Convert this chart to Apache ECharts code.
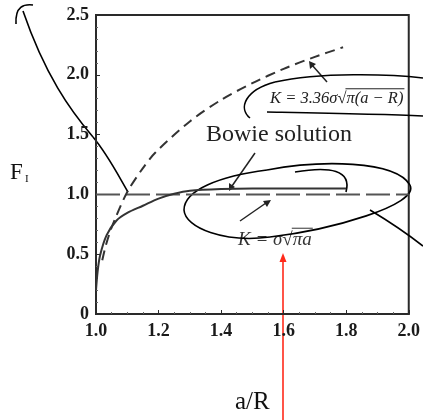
<!DOCTYPE html>
<html><head><meta charset="utf-8">
<script src="https://cdn.jsdelivr.net/npm/echarts@6/dist/echarts.min.js"></script>
<style>html,body{margin:0;padding:0;background:#fff}#c{width:423px;height:420px}</style>
</head><body><div id="c"></div>
<script>
// Data
const xTicks = [1.0, 1.2, 1.4, 1.6, 1.8, 2.0];
const yTicks = [0, 0.5, 1.0, 1.5, 2.0, 2.5];
const bowieX = [1.0, 1.005, 1.013, 1.034, 1.065, 1.1, 1.15, 1.2, 1.25, 1.3, 1.4, 1.5, 1.6, 1.8];
const bowieF = [0.2, 0.35, 0.49, 0.66, 0.78, 0.845, 0.905, 0.965, 1.005, 1.03, 1.045, 1.05, 1.05, 1.05];
const shortX = [1.02, 1.03, 1.044, 1.06, 1.1, 1.15, 1.19, 1.3, 1.4, 1.5, 1.6, 1.7, 1.79];
const shortF = [0.45, 0.56, 0.68, 0.79, 1.02, 1.22, 1.35, 1.61, 1.79, 1.93, 2.05, 2.15, 2.23];
const longX = [1.0, 2.0];
const longF = [1.0, 1.0];
const eq1 = ['K = 3.36σ√', 'π(a − R)'];
const eq2 = ['K = σ√', 'πa'];

const serif = '"Liberation Serif", "DejaVu Serif", serif';
const chart = echarts.init(document.getElementById('c'), null, {renderer: 'canvas'});
const zip = (a, b) => a.map((v, i) => [v, b[i]]);
const ink = '#2a2a2a';
const hand = () => ({stroke: '#000', lineWidth: 1.6, fill: null});
const bz = (x1, y1, c1x, c1y, c2x, c2y, x2, y2) => ({type: 'bezierCurve',
  shape: {x1, y1, cpx1: c1x, cpy1: c1y, cpx2: c2x, cpy2: c2y, x2, y2}, style: hand()});
const ctx = document.createElement('canvas').getContext('2d');
const tw = (t, size) => { ctx.font = 'italic ' + size + 'px ' + serif; return ctx.measureText(t).width; };
function eq(parts, x, y, size, color) {
  const w1 = tw(parts[0], size), w2 = tw(parts[0] + parts[1], size);
  return [
    {type: 'text', x: x, y: y, style: {text: parts[0] + parts[1], fontFamily: serif, fontStyle: 'italic', fontSize: size, fill: color, align: 'left', verticalAlign: 'middle'}},
    {type: 'line', shape: {x1: x + w1 - 1, y1: y - size * 0.62, x2: x + w2 + 1, y2: y - size * 0.62}, style: {stroke: color, lineWidth: 1}}
  ];
}
const tickFont = {color: '#1a1a1a', fontFamily: serif, fontSize: 18, fontWeight: 'bold'};

chart.setOption({
  animation: false,
  backgroundColor: '#fff',
  grid: {left: 96, right: 11, top: 15, bottom: 100, show: true, borderColor: ink, borderWidth: 2},
  xAxis: {
    type: 'value', min: 1.0, max: 2.0, interval: 0.2,
    axisLine: {show: true, lineStyle: {color: ink, width: 2}},
    axisTick: {show: true, inside: true, length: 4, lineStyle: {color: ink}},
    minorTick: {show: true, splitNumber: 4, length: 2, lineStyle: {color: '#666'}},
    splitLine: {show: false},
    axisLabel: Object.assign({margin: 8, formatter: v => v.toFixed(1)}, tickFont),
    name: 'a/R', nameLocation: 'middle', nameGap: 76,
    nameTextStyle: {fontFamily: serif, fontSize: 25, color: '#111'}
  },
  yAxis: {
    type: 'value', min: 0, max: 2.5, interval: 0.5,
    axisLine: {show: true, lineStyle: {color: ink, width: 2}},
    axisTick: {show: true, inside: true, length: 4, lineStyle: {color: ink}},
    minorTick: {show: true, splitNumber: 5, length: 2, lineStyle: {color: '#666'}},
    splitLine: {show: false},
    axisLabel: Object.assign({margin: 7, formatter: v => v === 0 ? '0' : v.toFixed(1)}, tickFont)
  },
  series: [
    {type: 'line', name: 'long', data: zip(longX, longF), symbol: 'none',
      lineStyle: {color: '#555', width: 2, type: [24, 6]}, z: 2},
    {type: 'line', name: 'short', data: zip(shortX, shortF), symbol: 'none', smooth: 0.3,
      lineStyle: {color: '#333', width: 2, type: [10, 6]}, z: 3},
    {type: 'line', name: 'Bowie solution', data: zip(bowieX, bowieF), symbol: 'none', smooth: 0.3,
      lineStyle: {color: '#333', width: 2}, z: 4}
  ],
  graphic: [
    {type: 'text', x: 10, y: 161, style: {text: 'F', fontFamily: serif, fontSize: 23, fill: '#111'}},
    {type: 'text', x: 25, y: 174, style: {text: 'I', fontFamily: serif, fontSize: 11, fill: '#111'}},
    {type: 'text', x: 279, y: 135, style: {text: 'Bowie solution', fontFamily: serif, fontSize: 24, fill: '#222', align: 'center', verticalAlign: 'middle'}},
    ...eq(eq1, 270, 99, 16.5, '#222'),
    ...eq(eq2, 238, 240, 19, '#333'),
    {type: 'line', shape: {x1: 327, y1: 82, x2: 312, y2: 65}, style: {stroke: '#222', lineWidth: 1.5}},
    {type: 'polygon', shape: {points: [[309, 61], [310, 69], [316, 64]]}, style: {fill: '#222'}},
    {type: 'line', shape: {x1: 255, y1: 153, x2: 232, y2: 186}, style: {stroke: '#222', lineWidth: 1.5}},
    {type: 'polygon', shape: {points: [[229, 191], [229, 183], [235, 187]]}, style: {fill: '#222'}},
    {type: 'line', shape: {x1: 240, y1: 221, x2: 266, y2: 203}, style: {stroke: '#222', lineWidth: 1.5}},
    {type: 'polygon', shape: {points: [[271, 200], [263, 201], [267, 207]]}, style: {fill: '#222'}},
    // hand-drawn annotations
    bz(33, 5, 24, 4, 15, 6, 16, 24),
    bz(23, 11, 45, 75, 70, 110, 93, 137),
    bz(93, 137, 108, 155, 118, 175, 128, 192),
    bz(250, 118, 238, 108, 245, 90, 275, 82),
    bz(275, 82, 320, 72, 390, 74, 423, 78),
    bz(267, 112, 320, 113, 380, 114, 423, 116),
    bz(295, 172, 330, 166, 352, 170, 346, 192),
    bz(267, 170, 320, 160, 395, 160, 410, 185),
    bz(410, 185, 420, 205, 330, 230, 270, 237),
    bz(270, 237, 225, 243, 185, 228, 184, 210),
    bz(184, 210, 184, 190, 220, 176, 267, 170),
    bz(370, 210, 390, 222, 405, 232, 423, 246),
    {type: 'line', shape: {x1: 283, y1: 258, x2: 283, y2: 420}, style: {stroke: '#ff2a1a', lineWidth: 1.6}},
    {type: 'polygon', shape: {points: [[283, 253], [279.5, 262], [286.5, 262]]}, style: {fill: '#ff2a1a'}}
  ]
});
</script></body></html>
